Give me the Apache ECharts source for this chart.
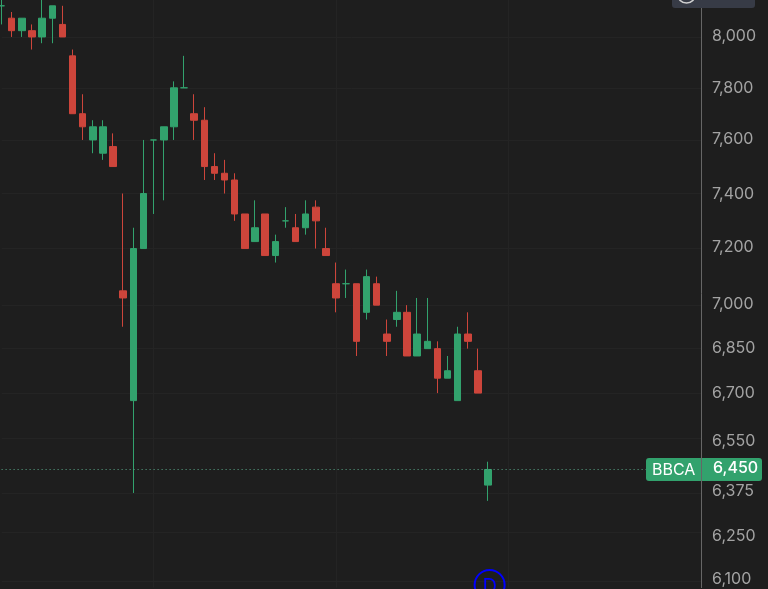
<!DOCTYPE html>
<html>
<head>
<meta charset="utf-8">
<style>
  html, body { margin: 0; padding: 0; background: #1e1e1e; }
  #chart { width: 768px; height: 589px; }
</style>
<script src="https://cdn.jsdelivr.net/npm/echarts@6/dist/echarts.min.js"></script>
</head>
<body>
<div id="chart"></div>
<script>
// daily candles (prices move in steps of 25)
const opens = [8125, 8075, 8025, 8025, 8000, 8075, 8050, 7925, 7700, 7600, 7550, 7575, 7050, 6675, 7200, 7600, 7600, 7650, 7800, 7700, 7675, 7500, 7475, 7450, 7325, 7225, 7325, 7175, 7300, 7275, 7275, 7350, 7200, 7075, 7075, 7075, 6975, 7075, 6900, 6950, 6975, 6825, 6850, 6850, 6750, 6675, 6900, 6775, 6400];
const closes = [8125, 8025, 8075, 8000, 8075, 8125, 8000, 7700, 7650, 7650, 7650, 7500, 7025, 7200, 7400, 7600, 7650, 7800, 7800, 7675, 7500, 7475, 7450, 7325, 7200, 7275, 7175, 7225, 7300, 7225, 7325, 7300, 7175, 7025, 7075, 6875, 7100, 7000, 6875, 6975, 6825, 6900, 6875, 6750, 6775, 6900, 6875, 6700, 6450];
const lows = [8050, 8000, 8000, 7950, 7975, 7975, 8000, 7700, 7600, 7550, 7525, 7500, 6925, 6375, 7200, 7325, 7375, 7600, 7800, 7600, 7450, 7450, 7400, 7300, 7200, 7225, 7175, 7150, 7275, 7225, 7250, 7200, 7175, 6975, 7025, 6825, 6950, 7000, 6825, 6925, 6825, 6825, 6850, 6700, 6750, 6675, 6850, 6700, 6350];
const highs = [8175, 8100, 8075, 8050, 8175, 8125, 8125, 7950, 7775, 7675, 7675, 7625, 7400, 7275, 7600, 7600, 7650, 7825, 7925, 7775, 7725, 7550, 7525, 7475, 7325, 7375, 7325, 7250, 7350, 7325, 7375, 7375, 7275, 7150, 7125, 7075, 7125, 7100, 6950, 7050, 7000, 7025, 7025, 6875, 6825, 6925, 6975, 6850, 6475];
const priceTicks = [8000, 7800, 7600, 7400, 7200, 7000, 6850, 6700, 6550, 6375, 6250, 6100];
const monthStarts = [15, 33, 50];
const lastPrice = 6450;
const ticker = 'BBCA';
const emptyBars = 21; // free room right of the last candle

const categories = [];
for (let i = 0; i < opens.length + emptyBars; i++) categories.push(String(i));

const candles = opens.map((o, i) => [o, closes[i], lows[i], highs[i]]);

const green = '#32a26d';
const red = '#cd453b';
const gridColor = '#242424';
const axisColor = '#666666';
const fontFamily = 'Inter, "Noto Sans", sans-serif';

const fmt = (v) => Math.round(v).toLocaleString('en-US');

// the platform moves a few tick labels off their grid line, px up (+) or down (-)
const labelShift = { 8000: 1, 7600: 1, 7400: -1, 7200: 1, 7000: 1, 6550: -3, 6375: 2, 6250: -3, 6100: 2 };

const labelRich = { plain: { color: '#a3a3a3', fontFamily, fontSize: 16 } };
Object.keys(labelShift).forEach((k) => {
  const d = labelShift[k] * 2;
  labelRich['p' + k] = {
    color: '#a3a3a3',
    fontFamily,
    fontSize: 16,
    padding: d > 0 ? [0, 0, d, 0] : [-d, 0, 0, 0],
  };
});

const chart = echarts.init(document.getElementById('chart'), null, { renderer: 'canvas' });

const option = {
  animation: false,
  backgroundColor: '#1e1e1e',
  grid: { left: 1.6, top: -1.4, width: 699.4, height: 589 },
  xAxis: {
    type: 'category',
    data: categories,
    boundaryGap: false,
    axisLine: { show: false },
    axisTick: { show: false },
    axisLabel: { show: false },
    splitLine: {
      show: true,
      interval: (index) => monthStarts.includes(index),
      lineStyle: { color: gridColor, width: 1 },
    },
  },
  yAxis: {
    type: 'log',
    position: 'right',
    min: 6081.6,
    max: 8148.5,
    axisLine: { show: true, onZero: false, lineStyle: { color: axisColor, width: 1 } },
    axisTick: { show: false, customValues: priceTicks },
    axisLabel: {
      customValues: priceTicks,
      margin: 11,
      formatter: (v) => {
        const key = Math.round(v);
        return '{' + (labelShift[key] ? 'p' + key : 'plain') + '|' + fmt(v) + '}';
      },
      rich: labelRich,
    },
    splitLine: { show: true, lineStyle: { color: gridColor, width: 1 } },
  },
  series: [
    {
      type: 'candlestick',
      data: candles,
      barWidth: 7,
      clip: false,
      itemStyle: {
        color: green,
        color0: red,
        borderColor: green,
        borderColor0: red,
        borderColorDoji: green,
        borderWidth: 1,
      },
      markLine: {
        silent: true,
        symbol: 'none',
        label: { show: false },
        lineStyle: { color: '#5aa98a', type: [1, 3], width: 1 },
        data: [{ yAxis: lastPrice }],
      },
    },
  ],
};

chart.setOption(option);

// price tag, top button and the dividend marker sit on top of the plot
const tagY = Math.round(chart.convertToPixel({ yAxisIndex: 0 }, lastPrice)) + 1;
const lastX = chart.convertToPixel({ xAxisIndex: 0 }, categories[opens.length - 1]);

chart.setOption({
  graphic: [
    { type: 'rect', z: 100, shape: { x: 646, y: tagY - 12, width: 116, height: 23, r: 3 }, style: { fill: green } },
    { type: 'line', z: 101, shape: { x1: 701.5, y1: tagY - 12, x2: 701.5, y2: tagY + 11 }, style: { stroke: axisColor, lineWidth: 1 } },
    { type: 'text', z: 102, x: 652, y: tagY - 8, style: { text: ticker, fill: '#ffffff', font: '16px ' + fontFamily } },
    { type: 'text', z: 102, x: 713, y: tagY - 10, style: { text: fmt(lastPrice), fill: '#ffffff', font: '500 16px ' + fontFamily } },
    { type: 'rect', z: 100, shape: { x: 672, y: -6, width: 83, height: 14, r: 3 }, style: { fill: '#373b46' } },
    { type: 'circle', z: 101, shape: { cx: 686.5, cy: -6, r: 9 }, style: { fill: 'none', stroke: '#d0d0d0', lineWidth: 1.5 } },
    { type: 'circle', z: 100, shape: { cx: lastX + 1.5, cy: 585, r: 15 }, style: { fill: 'none', stroke: '#0000ff', lineWidth: 2 } },
    { type: 'text', z: 101, x: lastX + 1.5, y: 587, style: { text: 'D', fill: '#0000ff', font: '20px ' + fontFamily, align: 'center', verticalAlign: 'middle' } },
  ],
});
</script>
</body>
</html>
